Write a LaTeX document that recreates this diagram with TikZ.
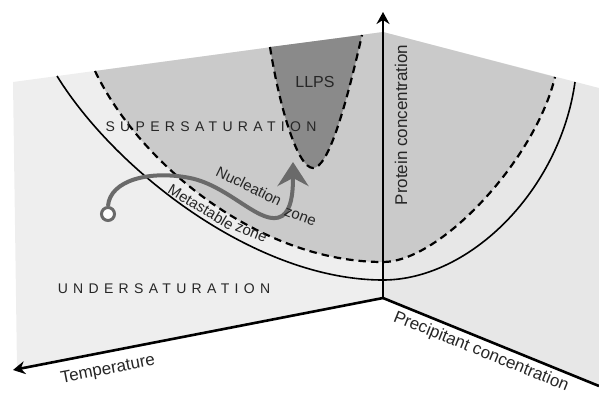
\documentclass[tikz,border=0pt]{standalone}
\usepackage{fontspec}
\setmainfont{Liberation Sans}
\newfontfamily\widefont[LetterSpace=38]{Liberation Sans}
\usepackage{tikz}
\usetikzlibrary{arrows.meta}
\definecolor{wallgrey}{HTML}{EEEEEE}
\definecolor{supergrey}{HTML}{CACACA}
\definecolor{llpsgrey}{HTML}{8A8A8A}
\definecolor{pathgrey}{HTML}{6A6A6A}
\definecolor{labelgrey}{HTML}{262626}

\tikzset{
  axis/.style={line width=2.6pt, -{Stealth[length=12pt, width=13pt, inset=4pt]}},
  solubility/.style={line width=1.6pt},
  limitline/.style={line width=2.2pt, dash pattern=on 7.5pt off 5pt},
  axislabel/.style={font=\fontsize{17}{17}\selectfont, text=labelgrey, inner sep=1pt},
  regionlabel/.style={font=\widefont\fontsize{14}{14}\selectfont, text=labelgrey, inner sep=1pt},
  zonelabel/.style={font=\fontsize{15}{15}\selectfont, text=labelgrey, inner sep=0pt}
}

\begin{document}
\begin{tikzpicture}[x=1pt, y=-1pt]
\useasboundingbox (0,0) rectangle (599,394);
\coordinate (origin) at (383,298);
\coordinate (toptip) at (383,12);
\coordinate (lefttip) at (13,370);
\coordinate (rightend) at (599,386);
\coordinate (nucleus) at (293,162);
% the two walls
\fill[wallgrey] (13,82) -- (383,32) -- (origin) -- (17,368) -- cycle;
\fill[wallgrey!97!black] (383,32) -- (599,88) -- (599,386) -- (origin) -- cycle;
% supersaturation and LLPS
\fill[supergrey] (95,71) .. controls (140,165) and (260,262) .. (383,262)
  .. controls (440,262) and (535,160) .. (555,77) -- (383,32) -- cycle;
\fill[llpsgrey] (270,47) .. controls (280,110) and (298,168) .. (313,168)
  .. controls (328,168) and (345,110) .. (362,35) -- cycle;
\draw[limitline] (270,47) .. controls (280,110) and (298,168) .. (313,168)
  .. controls (328,168) and (345,110) .. (362,35);
% solubility and metastable limit
\draw[solubility] (57,76) .. controls (115,170) and (255,280) .. (383,280)
  .. controls (470,280) and (560,190) .. (575,82);
\draw[limitline] (95,71) .. controls (140,165) and (260,262) .. (383,262)
  .. controls (440,262) and (535,160) .. (555,77);
% axes
\draw[axis] (origin) -- (toptip);
\draw[axis] (origin) -- (lefttip);
\draw[line width=2.6pt] (origin) -- (rightend);
% crystallisation path
\node[circle, draw=pathgrey, line width=3pt, fill=white, minimum size=13pt, inner sep=0pt]
  (start) at (108,214) {};
\draw[pathgrey, line width=4pt, -{Stealth[length=24pt, width=31pt, inset=8pt]}]
  (start.north) .. controls (110,180) and (150,170) .. (190,178)
  .. controls (230,186) and (262,228) .. (282,216)
  .. controls (291,210) and (293,195) .. (nucleus);
% labels
\node[regionlabel] (super) at (211,127) {SUPERSATURATION};
\node[regionlabel] (under) at (164,289) {UNDERSATURATION};
\node[font=\fontsize{16}{16}\selectfont, text=labelgrey] (llps) at (315,82) {LLPS};
\node[zonelabel, rotate=-26] (nucl) at (249,186) {Nucleation};
\node[zonelabel, rotate=-20] (nuclzone) at (300,217) {zone};
\node[zonelabel, rotate=-31] (meta) at (201,207) {Metastable};
\node[zonelabel, rotate=-22] (metazone) at (251,233) {zone};
\node[axislabel, rotate=11] (temp) at (108,370) {Temperature};
\node[axislabel, rotate=-22] (prec) at (481,352) {Precipitant concentration};
\node[axislabel, rotate=90] (prot) at (401,125) {Protein concentration};
\end{tikzpicture}
\end{document}
